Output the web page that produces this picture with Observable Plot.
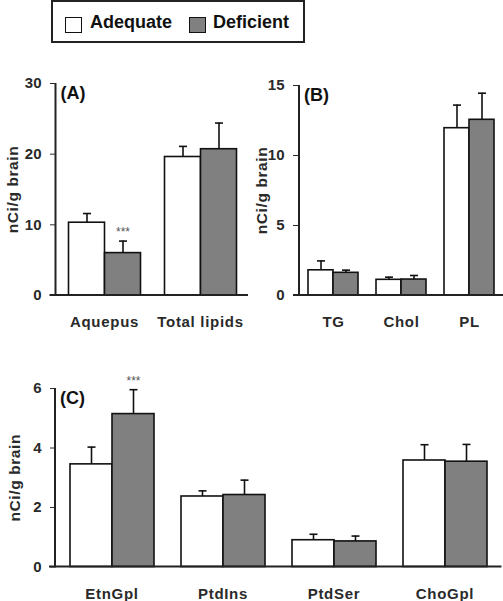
<!DOCTYPE html>
<html><head><meta charset="utf-8">
<script src="https://cdn.jsdelivr.net/npm/d3@7"></script>
<script src="https://cdn.jsdelivr.net/npm/@observablehq/plot@0.6"></script>
<style>
body{margin:0;background:#fff;font-family:"Liberation Sans",Arial,sans-serif;}
#root{position:relative;width:503px;height:601px;overflow:hidden;background:#fff;}
.panel{position:absolute;}
.legend{position:absolute;left:51px;top:0px;width:254px;height:43px;border:2px solid #222;box-sizing:border-box;}
.sw{position:absolute;width:17px;height:16px;border:1.5px solid #111;top:15px;box-sizing:border-box;}
.lt{position:absolute;top:11px;font-weight:bold;font-size:18px;line-height:18px;color:#111;}
.plab{position:absolute;font-weight:bold;font-size:18px;line-height:18px;color:#111;}
svg g[aria-label="y-axis label"] text{font-size:15.5px;letter-spacing:0.6px;}
svg g[aria-label="fx-axis tick label"] text{font-size:15px;letter-spacing:0.7px;}
</style></head><body><div id="root"></div>
<script>
// ---- data ----
const groups = ["Adequate", "Deficient"];
const groupFill = ["#ffffff", "#808080"];

const catsA = ["Aquepus", "Total lipids"];
const adequateA = [10.3, 19.6];
const adequateErrA = [1.3, 1.5];
const deficientA = [6.0, 20.7];
const deficientErrA = [1.7, 3.7];
const sigA = ["***", ""];           // marks on Deficient bars
const ticksA = [0, 10, 20, 30];

const catsB = ["TG", "Chol", "PL"];
const adequateB = [1.8, 1.12, 11.95];
const adequateErrB = [0.67, 0.19, 1.65];
const deficientB = [1.62, 1.14, 12.55];
const deficientErrB = [0.19, 0.29, 1.9];
const sigB = ["", "", ""];
const ticksB = [0, 5, 10, 15];

const catsC = ["EtnGpl", "PtdIns", "PtdSer", "ChoGpl"];
const adequateC = [3.45, 2.37, 0.9, 3.58];
const adequateErrC = [0.58, 0.19, 0.2, 0.53];
const deficientC = [5.14, 2.42, 0.86, 3.54];
const deficientErrC = [0.82, 0.5, 0.18, 0.58];
const sigC = ["***", "", "", ""];
const ticksC = [0, 2, 4, 6];

const yLabel = "nCi/g brain";

// ---- build ----
const root = document.getElementById("root");

const capSymbol = {
  draw(ctx, size) {
    const r = Math.sqrt(size / Math.PI);
    ctx.moveTo(-r, 0); ctx.lineTo(r, 0);
  }
};

function rowsOf(cats, a, ae, d, de, sig) {
  return cats.flatMap((c, i) => [
    {cat: c, group: groups[0], value: a[i], err: ae[i], sig: ""},
    {cat: c, group: groups[1], value: d[i], err: de[i], sig: sig[i]}
  ]);
}

function panel(cfg) {
  const rows = rowsOf(cfg.cats, cfg.a, cfg.ae, cfg.d, cfg.de, cfg.sig);
  const yMax = cfg.ticks[cfg.ticks.length - 1];
  const plot = Plot.plot({
    width: cfg.width, height: cfg.height,
    marginLeft: cfg.ml, marginRight: cfg.mr, marginTop: cfg.mt, marginBottom: cfg.mb,
    style: {fontFamily: '"Liberation Sans", Arial, sans-serif', fontSize: "15px", fontWeight: "bold", color: "#2a2a2a", background: "transparent"},
    facet: {data: rows, x: "cat", label: null},
    fx: {domain: cfg.cats, padding: 0, label: null, axis: "bottom", tickSize: 0, tickPadding: 21},
    x: {domain: groups, paddingInner: 0, paddingOuter: cfg.po, axis: null},
    y: {domain: [0, yMax], ticks: cfg.ticks, tickFormat: d => String(d), tickSize: 6, tickPadding: 9,
        label: yLabel, labelAnchor: "center", labelOffset: cfg.lo, labelArrow: "none"},
    color: {domain: groups, range: groupFill},
    marks: [
      Plot.barY(rows, {x: "group", y: "value", fill: "group", stroke: "#111", strokeWidth: 1.6, inset: 0}),
      Plot.ruleX(rows, {x: "group", y1: "value", y2: d => d.value + d.err, stroke: "#111", strokeWidth: 1.6}),
      Plot.dot(rows, {x: "group", y: d => d.value + d.err, symbol: capSymbol, r: 4, stroke: "#111", strokeWidth: 1.6, fill: "none"}),
      Plot.text(rows, {x: "group", y: d => d.value + d.err, text: "sig", dy: -9, fontSize: 12, fill: "#555", fontWeight: "normal"})
    ]
  });
  // axis lines drawn with the plot's own scales
  const y = plot.scale("y");
  const svg = d3.select(plot);
  const y0 = y.apply(0), yTop = y.apply(yMax);
  svg.append("line").attr("x1", cfg.ml).attr("x2", cfg.ml).attr("y1", y0).attr("y2", yTop)
    .attr("stroke", "#222").attr("stroke-width", 2);
  svg.append("line").attr("x1", cfg.ml - 6).attr("x2", cfg.width - cfg.mr).attr("y1", y0).attr("y2", y0)
    .attr("stroke", "#222").attr("stroke-width", 2);
  const wrap = document.createElement("div");
  wrap.className = "panel";
  wrap.style.left = cfg.left + "px";
  wrap.style.top = cfg.top + "px";
  wrap.appendChild(plot);
  root.appendChild(wrap);
  const lab = document.createElement("div");
  lab.className = "plab";
  lab.textContent = cfg.letter;
  lab.style.left = (cfg.left + cfg.ml + 5) + "px";
  lab.style.top = (cfg.top + cfg.mt + 1) + "px";
  root.appendChild(lab);
}

panel({letter: "(A)", cats: catsA, a: adequateA, ae: adequateErrA, d: deficientA, de: deficientErrA, sig: sigA, ticks: ticksA,
  left: 0, top: 60, width: 250, height: 275, ml: 55.5, mr: 2, mt: 23, mb: 40, po: 0.31, lo: 50});
panel({letter: "(B)", cats: catsB, a: adequateB, ae: adequateErrB, d: deficientB, de: deficientErrB, sig: sigB, ticks: ticksB,
  left: 250, top: 60, width: 253, height: 275, ml: 49, mr: 0, mt: 25, mb: 40, po: 0.333, lo: 44});
panel({letter: "(C)", cats: catsC, a: adequateC, ae: adequateErrC, d: deficientC, de: deficientErrC, sig: sigC, ticks: ticksC,
  left: 0, top: 340, width: 503, height: 261, ml: 55, mr: 1.5, mt: 48, mb: 34.5, po: 0.297, lo: 48});

// legend
const leg = document.createElement("div");
leg.className = "legend";
const lx = [[12, 37], [136, 160]];
groups.forEach((g, i) => {
  const s = document.createElement("div");
  s.className = "sw"; s.style.left = lx[i][0] + "px"; s.style.background = groupFill[i];
  leg.appendChild(s);
  const t = document.createElement("div");
  t.className = "lt"; t.style.left = lx[i][1] + "px"; t.textContent = g;
  leg.appendChild(t);
});
root.appendChild(leg);
</script></body></html>
